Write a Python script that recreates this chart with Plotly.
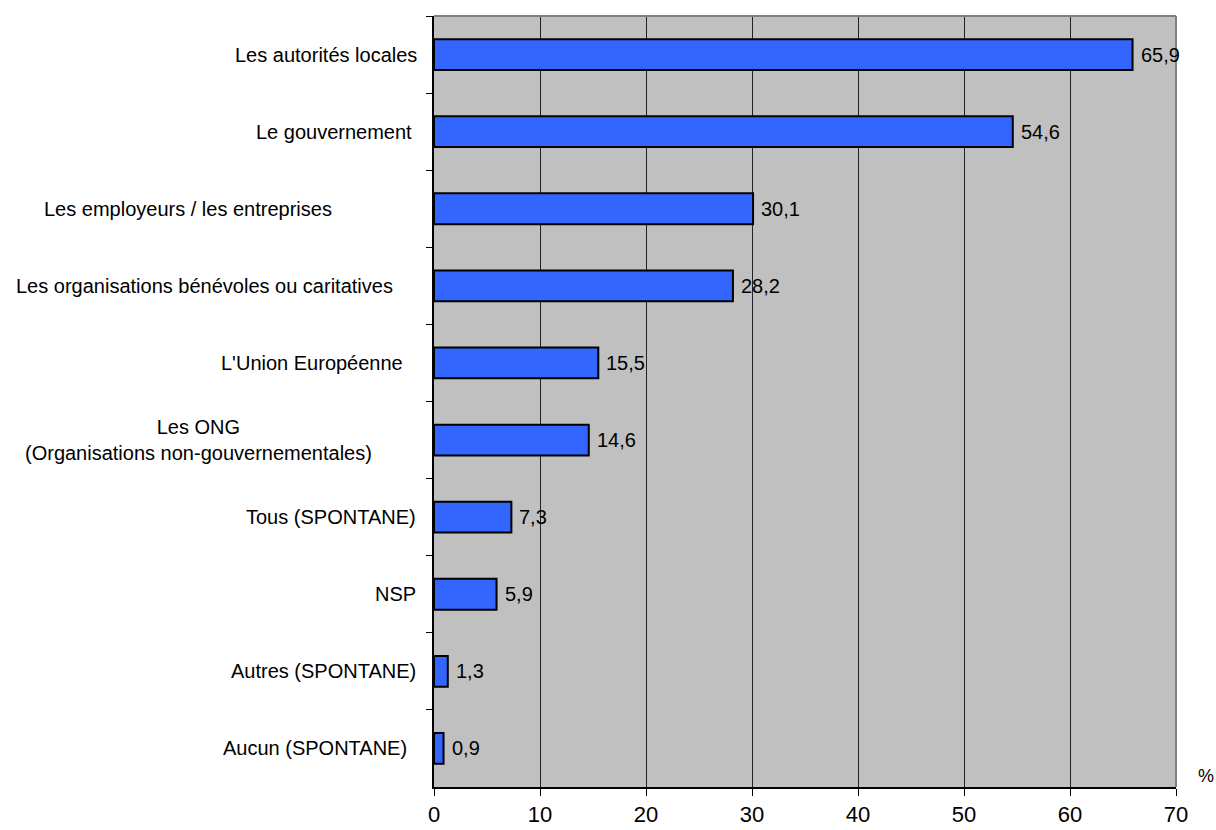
import plotly.graph_objects as go

# Survey answers, top to bottom
categories = [
    "Les autorités locales",
    "Le gouvernement",
    "Les employeurs / les entreprises",
    "Les organisations bénévoles ou caritatives",
    "L'Union Européenne",
    "Les ONG<br>(Organisations non-gouvernementales)",
    "Tous (SPONTANE)",
    "NSP",
    "Autres (SPONTANE)",
    "Aucun (SPONTANE)",
]
values = [65.9, 54.6, 30.1, 28.2, 15.5, 14.6, 7.3, 5.9, 1.3, 0.9]
x_ticks = [0, 10, 20, 30, 40, 50, 60, 70]

FONT = "Liberation Sans, Arial, sans-serif"
# horizontal gap between each category label and the axis line (px)
label_gap = [15, 20, 100, 39, 29, 60, 16, 16, 16, 25]

fig = go.Figure()
fig.add_trace(go.Bar(
    x=values,
    y=categories,
    orientation="h",
    marker=dict(color="#3366FF", line=dict(color="#000000", width=2)),
    width=0.4,
    hoverinfo="skip",
))

annotations = []
for cat, val, gap in zip(categories, values, label_gap):
    annotations.append(dict(
        x=0, y=cat, xref="paper", yref="y",
        text=cat, showarrow=False, xanchor="right", yanchor="middle",
        align="center", xshift=-gap,
        font=dict(family=FONT, size=20, color="#000000"),
    ))
    annotations.append(dict(
        x=val, y=cat, xref="x", yref="y",
        text=f"{val:.1f}".replace(".", ","), showarrow=False,
        xanchor="left", yanchor="middle", xshift=6,
        font=dict(family=FONT, size=20, color="#000000"),
    ))
annotations.append(dict(
    x=1, y=0, xref="paper", yref="paper", text="%", showarrow=False,
    xanchor="left", yanchor="middle", xshift=20, yshift=11,
    font=dict(family=FONT, size=18, color="#000000"),
))

fig.update_layout(
    width=1216, height=830,
    margin=dict(l=434, r=40, t=16, b=43),
    paper_bgcolor="#FFFFFF",
    plot_bgcolor="#C0C0C0",
    showlegend=False,
    bargap=0.6,
    annotations=annotations,
    xaxis=dict(
        range=[0, 70], tickvals=x_ticks, ticktext=[str(t) for t in x_ticks],
        showgrid=True, gridcolor="#222222", gridwidth=1,
        zeroline=False,
        showline=True, linecolor="#000000", linewidth=2,
        ticks="outside", ticklen=7, tickcolor="#000000", tickwidth=1,
        automargin=False,
        tickfont=dict(family=FONT, size=22, color="#000000"),
        fixedrange=True,
    ),
    yaxis=dict(
        categoryorder="array", categoryarray=categories,
        autorange="reversed",
        showticklabels=False, showgrid=False, zeroline=False,
        showline=True, linecolor="#000000", linewidth=2,
        ticks="outside", ticklen=6, tickcolor="#000000", tickwidth=1,
        tickson="boundaries",
        automargin=False,
        fixedrange=True,
    ),
    shapes=[
        dict(type="line", xref="paper", yref="paper", x0=0, x1=1, y0=1, y1=1,
             line=dict(color="#808080", width=2)),
        dict(type="line", xref="paper", yref="paper", x0=1, x1=1, y0=0, y1=1,
             line=dict(color="#808080", width=2)),
    ],
)

fig.write_html("out.html")
